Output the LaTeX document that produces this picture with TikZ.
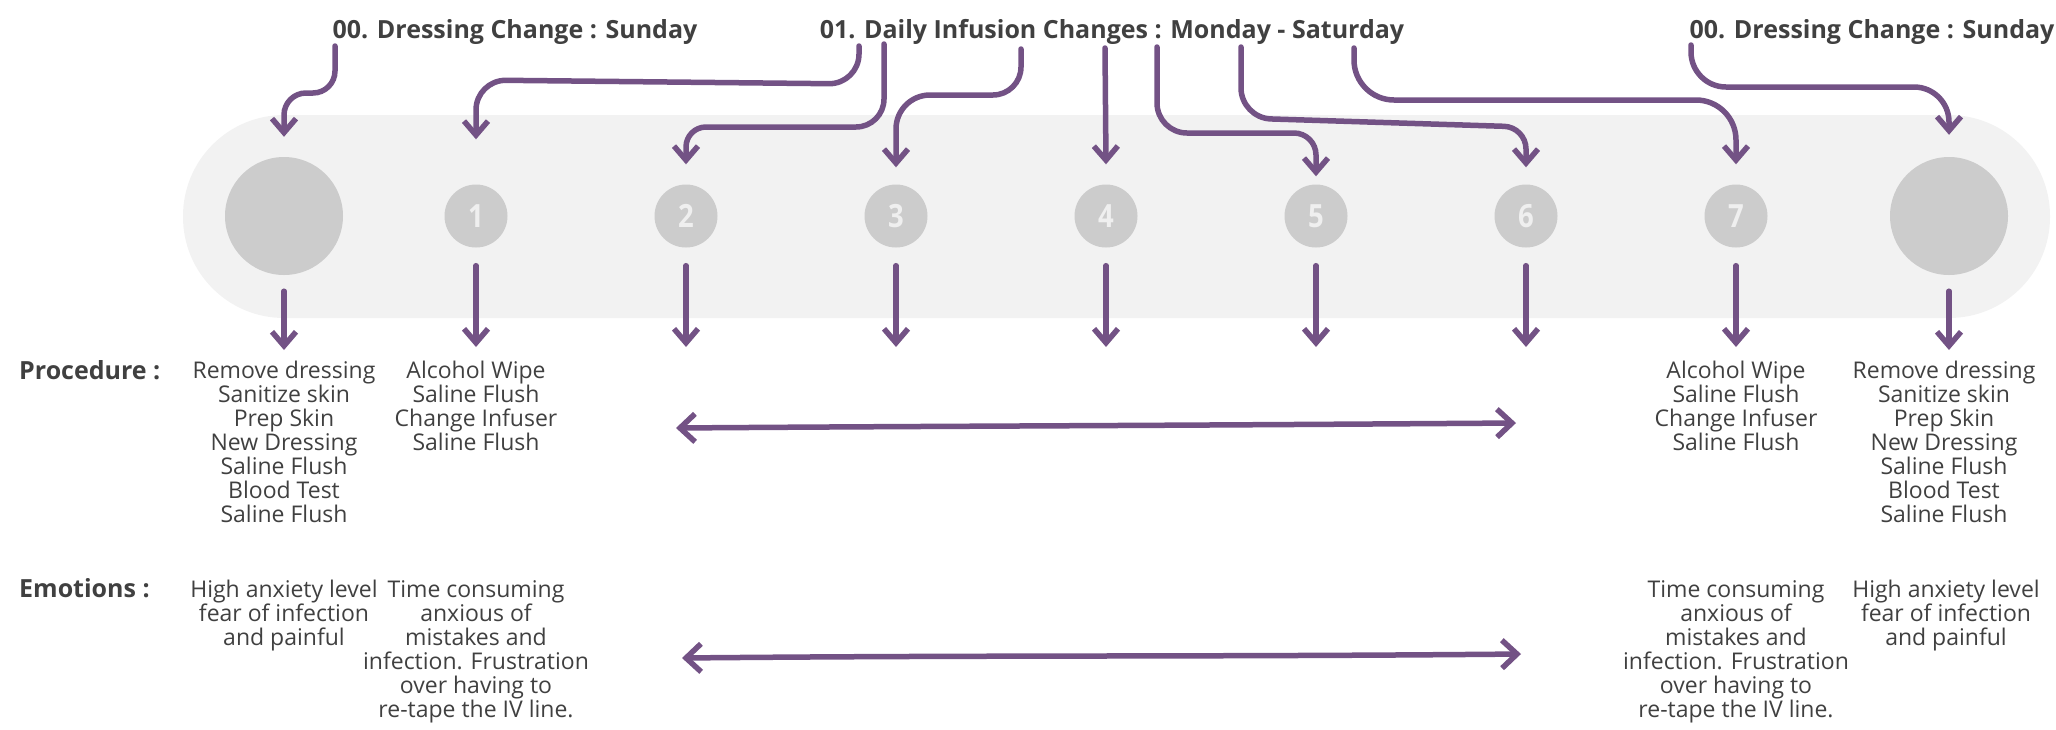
\documentclass[tikz,border=0pt]{standalone}
\usepackage{fontspec}
\setmainfont{Open Sans}
\newfontfamily\numfont{Open Sans}[FakeStretch=0.86]
\usetikzlibrary{arrows.meta, positioning}

\definecolor{plum}{HTML}{735285}
\definecolor{pillgray}{HTML}{F2F2F2}
\definecolor{dotgray}{HTML}{CCCCCC}
\definecolor{numwhite}{HTML}{EFEFEF}
\definecolor{ink}{HTML}{404040}

\tikzset{
  flow/.style={draw=plum, line width=5.5pt, line cap=round, rounded corners=22pt,
    -{Straight Barb[length=14pt, width=24pt]}},
  both/.style={draw=plum, line width=5.5pt, line cap=round,
    {Straight Barb[length=15pt, width=28pt]}-{Straight Barb[length=15pt, width=28pt]}},
  dot/.style={circle, fill=dotgray, inner sep=0pt, minimum size=63pt, text=numwhite,
    font=\numfont\bfseries\fontsize{32}{32}\selectfont},
  bigdot/.style={circle, fill=dotgray, inner sep=0pt, minimum size=118pt},
  title/.style={anchor=base, inner sep=0pt, text=ink, font=\bfseries\fontsize{25}{25}\selectfont},
  side/.style={anchor=base west, inner sep=0pt, text=ink, font=\bfseries\fontsize{25}{25}\selectfont},
  listtext/.style={anchor=north, align=center, inner sep=0pt, text=ink, font=\fontsize{23}{24}\selectfont}
}

\begin{document}
\begin{tikzpicture}[x=1pt, y=-1pt]
  \useasboundingbox (0,0) rectangle (2056,729);

  % the week band
  \fill[pillgray, rounded corners=101pt] (183,115) rectangle (2050,318);

  \node[bigdot] (c0) at (284,216) {};
  \foreach \i in {1,...,7}
    \node[dot] (c\i) at ({476+210*(\i-1)},216) {\i};
  \node[bigdot] (c8) at (1949,216) {};

  % headings
  \node[title] (t0) at (515,38) {00. Dressing Change : Sunday};
  \node[title] (t1) at (1112,38) {01. Daily Infusion Changes : Monday - Saturday};
  \node[title] (t2) at (1872,38) {00. Dressing Change : Sunday};

  \coordinate (s0) at (335,46);
  \coordinate (s1) at (859,46);
  \coordinate (s2) at (884,44);
  \coordinate (s3) at (1021,49);
  \coordinate (s4) at (1105,48);
  \coordinate (s5) at (1157,47);
  \coordinate (s6) at (1241,47);
  \coordinate (s7) at (1354,48);
  \coordinate (s8) at (1691,45);

  % heading -> day
  \draw[flow] (s0) -- (s0 |- 0,93) -- (c0.north |- 0,93) -- ([yshift=20pt]c0.north);
  \draw[flow, rounded corners=30pt] (s1) -- (s1 |- 0,84) -- (c1.north |- 0,80) -- ([yshift=45pt]c1.north);
  \draw[flow, rounded corners=28pt] (s2) -- (s2 |- 0,127) [rounded corners=20pt] -- (c2.north |- 0,127) -- ([yshift=20pt]c2.north);
  \draw[flow, rounded corners=28pt] (s3) -- (s3 |- 0,95) [rounded corners=34pt] -- (c3.north |- 0,95) -- ([yshift=17pt]c3.north);
  \draw[flow] (s4) -- ([yshift=20pt]c4.north);
  \draw[flow, rounded corners=30pt] (s5) -- (s5 |- 0,133) [rounded corners=22pt] -- (c5.north |- 0,133) -- ([yshift=8pt]c5.north);
  \draw[flow, rounded corners=30pt] (s6) -- (s6 |- 0,118) [rounded corners=22pt] -- (c6.north |- 0,127) -- ([yshift=17pt]c6.north);
  \draw[flow, rounded corners=40pt] (s7) -- (s7 |- 0,100) -- (c7.north |- 0,100) -- ([yshift=20pt]c7.north);
  \draw[flow, rounded corners=35pt] (s8) -- (s8 |- 0,87) -- (c8.north |- 0,87) -- ([yshift=22pt]c8.north);

  % day -> procedure
  \coordinate (d0) at (284,350);
  \draw[flow] ([yshift=-16pt]c0.south) -- (d0);
  \foreach \i in {1,...,7} {
    \coordinate (d\i) at ({476+210*(\i-1)},347);
    \draw[flow] ([yshift=-18pt]c\i.south) -- (d\i);
  }
  \coordinate (d8) at (1949,350);
  \draw[flow] ([yshift=-16pt]c8.south) -- (d8);

  % rows
  \node[side] (proc) at (19,379) {Procedure :};
  \node[side] (emo) at (19,597) {Emotions :};

  \node[listtext] (p0) at (284,361) {Remove dressing\\Sanitize skin\\Prep Skin\\New Dressing\\Saline Flush\\Blood Test\\Saline Flush};
  \node[listtext] (p1) at (476,361) {Alcohol Wipe\\Saline Flush\\Change Infuser\\Saline Flush};
  \node[listtext] (p7) at (1736,361) {Alcohol Wipe\\Saline Flush\\Change Infuser\\Saline Flush};
  \node[listtext] (p8) at (1944,361) {Remove dressing\\Sanitize skin\\Prep Skin\\New Dressing\\Saline Flush\\Blood Test\\Saline Flush};

  \node[listtext] (e0) at (284,580) {High anxiety level\\fear of infection\\and painful};
  \node[listtext] (e1) at (476,580) {Time consuming\\anxious of\\mistakes and\\infection. Frustration\\over having to\\re-tape the IV line.};
  \node[listtext] (e7) at (1736,580) {Time consuming\\anxious of\\mistakes and\\infection. Frustration\\over having to\\re-tape the IV line.};
  \node[listtext] (e8) at (1946,580) {High anxiety level\\fear of infection\\and painful};

  % same routine all week
  \coordinate (a1) at (676,428);
  \coordinate (a2) at (1516,423);
  \coordinate (b1) at (682,658);
  \coordinate (b2) at (1521,654);
  \draw[both] (a1) .. controls (950,426) and (1100,426) .. (a2);
  \draw[both] (b1) .. controls (1000,655) and (1200,657) .. (b2);
\end{tikzpicture}
\end{document}
